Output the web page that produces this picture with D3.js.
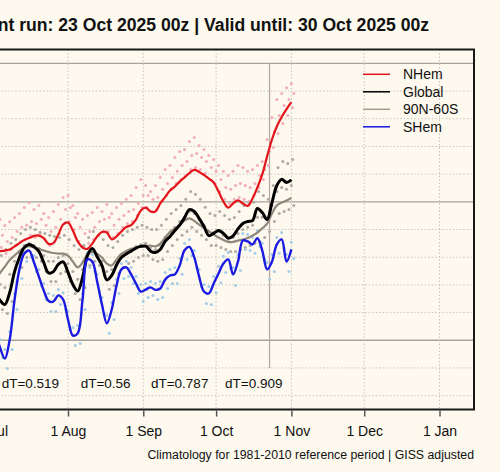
<!DOCTYPE html>
<html>
<head>
<meta charset="utf-8">
<script src="https://cdn.jsdelivr.net/npm/d3@7"></script>
<style>
  html, body { margin: 0; padding: 0; background: #fdf9ee; }
  svg { display: block; font-family: "Liberation Sans", Arial, sans-serif; }
</style>
</head>
<body>
<svg class="chart" width="500" height="472"></svg>
<script>
// Daily temperature anomaly chart (cropped view, Jul - Jan)

// Dates of the sampled values (every 2 days)
var days = [
  "2025-07-02","2025-07-04","2025-07-06","2025-07-08","2025-07-10","2025-07-12","2025-07-14","2025-07-16",
  "2025-07-18","2025-07-20","2025-07-22","2025-07-24","2025-07-26","2025-07-28","2025-07-30",
  "2025-08-01","2025-08-03","2025-08-05","2025-08-07","2025-08-09","2025-08-11","2025-08-13","2025-08-15",
  "2025-08-17","2025-08-19","2025-08-21","2025-08-23","2025-08-25","2025-08-27","2025-08-29","2025-08-31",
  "2025-09-02","2025-09-04","2025-09-06","2025-09-08","2025-09-10","2025-09-12","2025-09-14","2025-09-16",
  "2025-09-18","2025-09-20","2025-09-22","2025-09-24","2025-09-26","2025-09-28","2025-09-30",
  "2025-10-02","2025-10-04","2025-10-06","2025-10-08","2025-10-10","2025-10-12","2025-10-14","2025-10-16",
  "2025-10-18","2025-10-20","2025-10-22","2025-10-24","2025-10-26","2025-10-28","2025-10-30",
  "2025-11-01"
];

// Smoothed series
var nhem = [0.817,0.822,0.824,0.828,0.839,0.851,0.862,0.869,0.877,0.878,
  0.869,0.848,0.851,0.882,0.918,0.925,0.896,0.857,0.835,0.830,
  0.849,0.875,0.891,0.889,0.864,0.875,0.893,0.909,0.916,0.936,
  0.969,0.979,0.965,0.965,0.994,1.017,1.041,1.055,1.073,1.088,
  1.104,1.115,1.108,1.097,1.084,1.070,1.037,1.001,0.979,0.994,
  1.005,0.994,0.985,1.012,1.052,1.099,1.164,1.225,1.272,1.306,
  1.335,1.360];
var global = [0.676,0.644,0.629,0.673,0.748,0.799,0.835,0.846,0.838,0.821,
  0.781,0.743,0.748,0.774,0.783,0.745,0.701,0.678,0.727,0.806,
  0.831,0.802,0.770,0.718,0.734,0.772,0.799,0.812,0.822,0.833,
  0.839,0.840,0.822,0.817,0.828,0.857,0.875,0.896,0.916,0.943,
  0.972,0.965,0.940,0.911,0.878,0.886,0.896,0.886,0.869,0.877,
  0.902,0.922,0.929,0.932,0.976,0.961,0.936,0.997,1.059,1.081,
  1.070,1.079];
var band = [0.720,0.743,0.766,0.790,0.806,0.822,0.835,0.840,0.835,0.830,
  0.824,0.819,0.815,0.813,0.813,0.806,0.784,0.763,0.781,0.810,
  0.819,0.812,0.799,0.777,0.770,0.792,0.812,0.822,0.830,0.835,
  0.839,0.840,0.842,0.839,0.849,0.871,0.891,0.904,0.918,0.932,
  0.940,0.931,0.918,0.905,0.893,0.882,0.871,0.862,0.855,0.855,
  0.860,0.864,0.869,0.878,0.889,0.904,0.921,0.958,0.987,0.997,
  1.005,1.014];
var shem = [0.539,0.474,0.434,0.503,0.647,0.756,0.813,0.824,0.781,0.730,
  0.680,0.642,0.640,0.662,0.647,0.575,0.517,0.525,0.647,0.792,
  0.784,0.712,0.629,0.561,0.611,0.698,0.756,0.763,0.738,0.705,
  0.676,0.683,0.691,0.682,0.687,0.719,0.734,0.738,0.770,0.825,
  0.837,0.799,0.730,0.676,0.669,0.705,0.741,0.777,0.792,0.738,
  0.784,0.860,0.857,0.846,0.869,0.824,0.756,0.784,0.846,0.864,
  0.784,0.828];

// Daily scatter (raw values), NHem
var nhemDotsA = [0.922,0.937,0.914,0.928,0.943,0.958,0.979,0.997,0.972,0.987,
  0.958,0.943,0.965,0.990,1.016,1.023,0.987,0.958,0.937,0.951,
  0.961,0.979,0.965,0.990,0.958,0.979,0.994,1.009,1.023,1.052,
  1.081,1.059,1.037,1.059,1.088,1.117,1.131,1.160,1.182,1.189,
  1.218,1.232,1.203,1.189,1.167,1.153,1.131,1.110,1.095,1.110,
  1.131,1.124,1.110,1.117,1.131,1.146,1.225,1.304,1.369,1.391,
  1.412,1.427];
var nhemDotsB = [0.864,0.879,0.857,0.871,0.893,0.908,0.915,0.929,0.922,0.937,
  0.915,0.893,0.908,0.937,0.972,0.979,0.943,0.908,0.886,0.893,
  0.908,0.929,0.937,0.943,0.915,0.937,0.951,0.965,0.972,0.994,
  1.023,1.023,1.009,1.016,1.045,1.066,1.088,1.110,1.131,1.146,
  1.167,1.174,1.160,1.146,1.124,1.110,1.081,1.052,1.045,1.059,
  1.066,1.059,1.052,1.066,1.095,1.117,1.182,1.254,1.312,1.348,
  1.369,1.391];
var nhemDotsC = [0.819,0.835,0.813,0.828,0.842,0.857,0.864,0.879,0.871,0.886,
  0.864,0.842,0.857,0.886,0.922,0.929,0.900,0.857,0.842,0.850,
  0.864,0.879,0.893,0.893,0.871,0.886,0.908,0.922,0.929,0.951,
  0.980,0.980,0.965,0.972,1.001,1.023,1.045,1.066,1.081,1.095,
  1.117,1.124,1.117,1.103,1.081,1.066,1.037,1.009,0.994,1.009,
  1.016,1.009,1.001,1.023,1.052,1.081,1.131,1.196,1.247,1.283,
  1.312,1.340];

// Daily scatter, Global / 90N-60S
var globDotsA = [0.785,0.806,0.828,0.850,0.864,0.886,0.900,0.908,0.900,0.890,
  0.886,0.879,0.875,0.871,0.879,0.864,0.842,0.828,0.842,0.871,
  0.893,0.879,0.864,0.842,0.835,0.857,0.879,0.893,0.900,0.908,
  0.915,0.908,0.900,0.900,0.915,0.937,0.958,0.972,0.987,1.009,
  1.037,1.027,1.009,0.980,0.958,0.951,0.965,0.951,0.937,0.943,
  0.965,0.987,0.994,0.998,1.037,1.023,1.009,1.059,1.124,1.146,
  1.138,1.153];
var globDotsB = [0.698,0.702,0.691,0.738,0.785,0.814,0.842,0.850,0.842,0.831,
  0.806,0.785,0.785,0.799,0.806,0.777,0.748,0.720,0.756,0.814,
  0.828,0.810,0.785,0.748,0.756,0.785,0.810,0.821,0.828,0.839,
  0.846,0.850,0.835,0.828,0.842,0.871,0.890,0.908,0.929,0.944,
  0.965,0.958,0.937,0.915,0.893,0.890,0.893,0.879,0.864,0.871,
  0.886,0.900,0.908,0.915,0.944,0.944,0.937,0.987,1.037,1.052,
  1.045,1.059];
var globDotsC = [0.640,0.611,0.597,0.640,0.712,0.763,0.799,0.806,0.799,0.785,
  0.748,0.712,0.712,0.741,0.748,0.712,0.669,0.647,0.691,0.770,
  0.785,0.770,0.734,0.684,0.698,0.741,0.763,0.777,0.785,0.799,
  0.806,0.806,0.792,0.785,0.792,0.821,0.842,0.864,0.879,0.893,
  0.908,0.893,0.879,0.864,0.842,0.842,0.835,0.828,0.821,0.821,
  0.828,0.835,0.842,0.850,0.857,0.871,0.893,0.929,0.958,0.965,
  0.972,0.987];

// Daily scatter, SHem
var shemDotsA = [0.564,0.503,0.467,0.532,0.669,0.777,0.835,0.846,0.806,0.756,
  0.705,0.669,0.662,0.683,0.672,0.604,0.546,0.553,0.669,0.817,
  0.810,0.738,0.654,0.589,0.636,0.720,0.777,0.785,0.763,0.730,
  0.701,0.705,0.712,0.705,0.712,0.745,0.756,0.763,0.795,0.850,
  0.864,0.824,0.756,0.701,0.694,0.730,0.767,0.803,0.817,0.763,
  0.810,0.886,0.882,0.871,0.896,0.850,0.781,0.810,0.871,0.889,
  0.810,0.854];
var shemDotsB = [0.503,0.438,0.398,0.467,0.611,0.723,0.785,0.799,0.748,0.698,
  0.647,0.604,0.604,0.629,0.611,0.539,0.481,0.488,0.611,0.763,
  0.748,0.676,0.597,0.525,0.575,0.669,0.723,0.730,0.705,0.669,
  0.640,0.654,0.662,0.647,0.654,0.687,0.705,0.705,0.738,0.792,
  0.806,0.763,0.694,0.633,0.629,0.672,0.708,0.745,0.759,0.698,
  0.752,0.828,0.824,0.814,0.839,0.792,0.720,0.748,0.814,0.832,
  0.748,0.795];

// Monthly mean labels
var dtMonths = ["2025-07-01","2025-08-01","2025-09-01","2025-10-01"];
var dtValues = ["0.519","0.56","0.787","0.909"];

var runDate = "2025-10-23";
var titleText = "Current run: 23 Oct 2025 00z | Valid until: 30 Oct 2025 00z";
var footText = "Climatology for 1981-2010 reference period | GISS adjusted";

var seriesNames = ["NHem","Global","90N-60S","SHem"];
var seriesColors = ["#e3141b","#000000","#a39c8e","#1a1ae0"];

// Layout (the plot's left part lies off-canvas)
var plotTop = 49.5, plotBottom = 409.5, plotRight = 474;

var parse = d3.utcParse("%Y-%m-%d");
var dates = days.map(parse);

var x = d3.scaleUtc()
  .domain([parse("2025-08-01"), parse("2026-01-01")])
  .range([68, 439.5]);
var plotLeft = x(parse("2025-01-01"));

var y = d3.scaleLinear()
  .domain([0.25, 1.55])
  .range([plotBottom, plotTop]);

var svg = d3.select(".chart");

svg.append("rect")
  .attr("width", 500).attr("height", 472)
  .attr("fill", "#fdf9ee");

// Grid: horizontal every 0.1, solid every 0.5
var yTicks = d3.range(3, 16).map(function(d) { return d / 10; });
function isMajor(d) { return Math.round(d * 10) % 5 === 0; }
svg.append("g").selectAll("line")
  .data(yTicks)
  .enter().append("line")
  .attr("x1", plotLeft).attr("x2", plotRight)
  .attr("y1", function(d) { return y(d); })
  .attr("y2", function(d) { return y(d); })
  .attr("stroke", function(d) { return isMajor(d) ? "#a8a399" : "#c9c5bb"; })
  .attr("stroke-width", function(d) { return isMajor(d) ? 1.3 : 1; })
  .attr("stroke-dasharray", function(d) { return isMajor(d) ? null : "1.5,2"; });

// Grid: vertical at each month (only the visible part: Jul onwards)
var months = d3.utcMonth.range(parse("2025-07-01"), parse("2026-01-15"));
svg.append("g").selectAll("line")
  .data(months)
  .enter().append("line")
  .attr("x1", function(d) { return x(d); })
  .attr("x2", function(d) { return x(d); })
  .attr("y1", plotTop).attr("y2", plotBottom)
  .attr("stroke", "#c9c5bb")
  .attr("stroke-dasharray", "1.5,2");

// Current run marker
svg.append("line")
  .attr("x1", x(parse(runDate))).attr("x2", x(parse(runDate)))
  .attr("y1", y(1.5)).attr("y2", y(0.4))
  .attr("stroke", "#b8a4a0")
  .attr("stroke-width", 1.2);

// Scatter dots
function dots(values, shift, color) {
  svg.append("g").selectAll("circle")
    .data(values)
    .enter().append("circle")
    .attr("cx", function(d, i) { return x(d3.utcHour.offset(dates[i], shift)); })
    .attr("cy", function(d) { return y(d); })
    .attr("r", 1.5)
    .attr("fill", color);
}
dots(nhemDotsA, 0, "#f2adbd");
dots(nhemDotsB, 24, "#f2adbd");
dots(nhemDotsC, 12, "#f2adbd");
dots(globDotsA, 12, "#aea9a2");
dots(globDotsB, 0, "#aea9a2");
dots(globDotsC, 24, "#aea9a2");
dots(shemDotsA, 0, "#a3cde8");
dots(shemDotsB, 24, "#a3cde8");

// Smoothed lines
var line = d3.line()
  .x(function(d, i) { return x(dates[i]); })
  .y(function(d) { return y(d); })
  .curve(d3.curveCatmullRom.alpha(0.5));

var order = [[band, "#90877b", 2.2], [global, seriesColors[1], 3], [nhem, seriesColors[0], 2.2], [shem, seriesColors[3], 2.4]];
order.forEach(function(s) {
  svg.append("path")
    .attr("d", line(s[0]))
    .attr("fill", "none")
    .attr("stroke", s[1])
    .attr("stroke-width", s[2])
    .attr("stroke-linejoin", "round");
});

// dT labels at mid-month
svg.append("g").selectAll("text")
  .data(dtMonths)
  .enter().append("text")
  .attr("x", function(d) {
    var m = parse(d);
    return (x(m) + x(d3.utcMonth.offset(m, 1))) / 2;
  })
  .attr("y", 388)
  .attr("text-anchor", "middle")
  .style("font-size", "13.5px")
  .attr("fill", "#111")
  .text(function(d, i) { return "dT=" + dtValues[i]; });

// Plot frame
svg.append("rect")
  .attr("x", plotLeft).attr("y", plotTop)
  .attr("width", plotRight - plotLeft).attr("height", plotBottom - plotTop)
  .attr("fill", "none")
  .attr("stroke", "#1a1a1a")
  .attr("stroke-width", 2);

// Bottom axis
var xAxis = d3.axisBottom(x)
  .tickValues(months)
  .tickSize(6)
  .tickFormat(d3.utcFormat("%-d %b"));
var ax = svg.append("g")
  .attr("transform", "translate(0," + (plotBottom + 1) + ")")
  .call(xAxis);
ax.select(".domain").remove();
ax.selectAll(".tick line").attr("stroke", "#555").attr("stroke-width", 1.5);
ax.selectAll(".tick text")
  .attr("dy", "1.15em")
  .style("font-family", "'Liberation Sans', Arial, sans-serif")
  .style("font-size", "14px")
  .attr("fill", "#111");

// Legend
var legend = svg.append("g").selectAll("g")
  .data(seriesNames)
  .enter().append("g")
  .attr("transform", function(d, i) { return "translate(363," + (74.3 + i * 17.5) + ")"; });
legend.append("line")
  .attr("x1", 0).attr("x2", 27)
  .attr("stroke", function(d, i) { return seriesColors[i]; })
  .attr("stroke-width", 1.5);
legend.append("text")
  .attr("x", 40).attr("y", 5)
  .style("font-size", "14px")
  .attr("fill", "#111")
  .text(function(d) { return d; });

// Title and footer
svg.append("text")
  .attr("x", 429).attr("y", 31)
  .attr("text-anchor", "end")
  .style("font-size", "17.6px")
  .style("font-weight", "bold")
  .attr("fill", "#111")
  .text(titleText);

svg.append("text")
  .attr("x", 474).attr("y", 459)
  .attr("text-anchor", "end")
  .style("font-size", "12.3px")
  .attr("fill", "#111")
  .text(footText);
</script>
</body>
</html>
